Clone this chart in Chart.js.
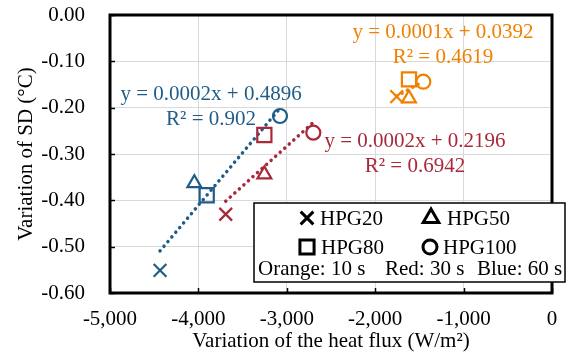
<!DOCTYPE html>
<html>
<head>
<meta charset="utf-8">
<script src="https://cdn.jsdelivr.net/npm/chart.js@4.4.0/dist/chart.umd.min.js"></script>
<style>
html, body { margin: 0; padding: 0; background: #fff; }
#wrap { width: 568px; height: 360px; }
</style>
</head>
<body>
<div id="wrap"><canvas id="myChart" width="568" height="360"></canvas></div>
<script>
// du lieu doc tu hinh
const markerNames = ['HPG20', 'HPG50', 'HPG80', 'HPG100'];
const groupNames = ['Orange: 10 s', 'Red: 30 s', 'Blue: 60 s'];

const flux10 = [-1757, -1618, -1618, -1456];
const sd10 = [-0.176, -0.180, -0.139, -0.144];
const flux30 = [-3691, -3254, -3254, -2700];
const sd30 = [-0.430, -0.344, -0.259, -0.254];
const flux60 = [-4434, -4046, -3906, -3077];
const sd60 = [-0.551, -0.363, -0.389, -0.218];

const xTicks = [-5000, -4000, -3000, -2000, -1000, 0];
const yTicks = [-0.6, -0.5, -0.4, -0.3, -0.2, -0.1, 0];

const fitText10 = ['y = 0.0001x + 0.0392', 'R² = 0.4619'];
const fitText30 = ['y = 0.0002x + 0.2196', 'R² = 0.6942'];
const fitText60 = ['y = 0.0002x + 0.4896', 'R² = 0.902'];
// cho dat nhan phuong trinh (toa do du lieu)
const fitAt10 = [-1233, -0.037];
const fitAt30 = [-1550, -0.274];
const fitAt60 = [-3857, -0.171];

const colors = ['#F08000', '#A8293B', '#1F5D88'];
const pointStyles = ['crossRot', 'triangle', 'rect', 'circle'];
const pointSizes = [9, 8, 10, 7];
const FONT = "'Liberation Serif', 'Times New Roman', serif";
const FS = 21;

// duong hoi quy
function fitLine(xs, ys) {
        const n = xs.length;
        let mx = 0, my = 0;
        xs.forEach((v, i) => { mx += v; my += ys[i]; });
        mx /= n; my /= n;
        let sxy = 0, sxx = 0;
        xs.forEach((v, i) => { sxy += (v - mx) * (ys[i] - my); sxx += (v - mx) * (v - mx); });
        const a = sxy / sxx;
        const b = my - a * mx;
        const x0 = Math.min(...xs), x1 = Math.max(...xs);
        return [{ x: x0, y: a * x0 + b }, { x: x1, y: a * x1 + b }];
}

const groups = [
        { xs: flux10, ys: sd10, text: fitText10, at: fitAt10 },
        { xs: flux30, ys: sd30, text: fitText30, at: fitAt30 },
        { xs: flux60, ys: sd60, text: fitText60, at: fitAt60 }
];

const datasets = [];
groups.forEach((g, i) => {
        datasets.push({
                type: 'line',
                label: groupNames[i] + ' fit',
                data: fitLine(g.xs, g.ys),
                borderColor: colors[i],
                borderWidth: 3.5,
                borderDash: [0.1, 6],
                borderCapStyle: 'round',
                pointRadius: 0,
                fill: false,
                order: 2
        });
        datasets.push({
                type: 'scatter',
                label: groupNames[i],
                data: g.xs.map((x, k) => ({ x: x, y: g.ys[k] })),
                pointStyle: pointStyles,
                pointRadius: pointSizes,
                pointBorderWidth: 2.2,
                borderColor: colors[i],
                backgroundColor: 'rgba(0,0,0,0)',
                order: 1
        });
});

// khung, vach chia, nhan, chu thich
const decor = {
        id: 'decor',
        afterDatasetsDraw(chart) {
                const ctx = chart.ctx;
                const a = chart.chartArea;
                const xs = chart.scales.x, ys = chart.scales.y;
                ctx.save();
                ctx.strokeStyle = '#000';
                ctx.lineWidth = 1.5;
                xTicks.forEach(v => {
                        const px = Math.round(xs.getPixelForValue(v)) + 0.5;
                        ctx.beginPath(); ctx.moveTo(px, a.bottom); ctx.lineTo(px, a.bottom - 5); ctx.stroke();
                });
                yTicks.forEach(v => {
                        const py = Math.round(ys.getPixelForValue(v)) + 0.5;
                        ctx.beginPath(); ctx.moveTo(a.left, py); ctx.lineTo(a.left + 5, py); ctx.stroke();
                });
                ctx.lineWidth = 3;
                ctx.strokeRect(a.left, a.top, a.right - a.left, a.bottom - a.top);

                // nhan phuong trinh
                ctx.font = FS + 'px ' + FONT;
                ctx.textAlign = 'center';
                ctx.textBaseline = 'middle';
                groups.forEach((g, i) => {
                        const px = xs.getPixelForValue(g.at[0]);
                        const py = ys.getPixelForValue(g.at[1]);
                        ctx.fillStyle = colors[i];
                        ctx.fillText(g.text[0], px, py);
                        ctx.fillText(g.text[1], px, py + 25);
                });

                // chu thich
                const bx = 254, by = 203, bw = 311, bh = 79;
                ctx.fillStyle = '#fff';
                ctx.fillRect(bx, by, bw, bh);
                ctx.lineWidth = 1.5;
                ctx.strokeStyle = '#000';
                ctx.strokeRect(bx, by, bw, bh);

                const items = [
                        { style: 'crossRot', r: 9, mx: 307, tx: 320, y: 218 },
                        { style: 'triangle', r: 9, mx: 431, tx: 447, y: 218 },
                        { style: 'rect', r: 10, mx: 307, tx: 321, y: 247 },
                        { style: 'circle', r: 7, mx: 430, tx: 443, y: 247 }
                ];
                ctx.lineWidth = 3;
                ctx.fillStyle = 'rgba(0,0,0,0)';
                items.forEach(it => {
                        Chart.helpers.drawPoint(ctx, { pointStyle: it.style, radius: it.r, borderWidth: 3, rotation: 0 }, it.mx, it.y);
                });
                ctx.fillStyle = '#000';
                ctx.textAlign = 'left';
                items.forEach((it, k) => ctx.fillText(markerNames[k], it.tx, it.y + 1));
                const gx = [258, 385, 477];
                groupNames.forEach((t, k) => ctx.fillText(t, gx[k], 269));
                ctx.restore();
        }
};

const config = {
        data: { datasets: datasets },
        options: {
                responsive: false,
                animation: false,
                layout: { padding: { top: 15, right: 16, left: 0, bottom: 0 } },
                plugins: { legend: { display: false }, tooltip: { enabled: false } },
                scales: {
                        x: {
                                type: 'linear',
                                min: -5000,
                                max: 0,
                                afterFit: s => { s.height = 67; s.paddingLeft = 0; s.paddingRight = 0; },
                                afterBuildTicks: s => { s.ticks = xTicks.map(v => ({ value: v })); },
                                grid: { color: '#D9D9D9', lineWidth: 1, drawTicks: false },
                                border: { display: false },
                                ticks: {
                                        color: '#000',
                                        padding: 14,
                                        maxRotation: 0,
                                        font: { family: FONT, size: FS },
                                        callback: v => v.toLocaleString('en-US')
                                },
                                title: {
                                        display: true,
                                        text: 'Variation of the heat flux (W/m²)',
                                        color: '#000',
                                        font: { family: FONT, size: FS },
                                        padding: { top: 0, bottom: 6 }
                                }
                        },
                        y: {
                                type: 'linear',
                                min: -0.6,
                                max: 0,
                                afterFit: s => { s.width = 110; s.paddingTop = 0; s.paddingBottom = 0; },
                                afterBuildTicks: s => { s.ticks = yTicks.map(v => ({ value: v })); },
                                grid: { color: '#D9D9D9', lineWidth: 1, drawTicks: false },
                                border: { display: false },
                                ticks: {
                                        color: '#000',
                                        padding: 25,
                                        font: { family: FONT, size: FS },
                                        callback: v => v.toFixed(2)
                                },
                                title: {
                                        display: true,
                                        text: 'Variation of SD (°C)',
                                        color: '#000',
                                        font: { family: FONT, size: FS },
                                        padding: { top: 14, bottom: 0 }
                                }
                        }
                }
        },
        plugins: [decor]
};

const myChart = new Chart(document.getElementById('myChart'), config);
</script>
</body>
</html>
